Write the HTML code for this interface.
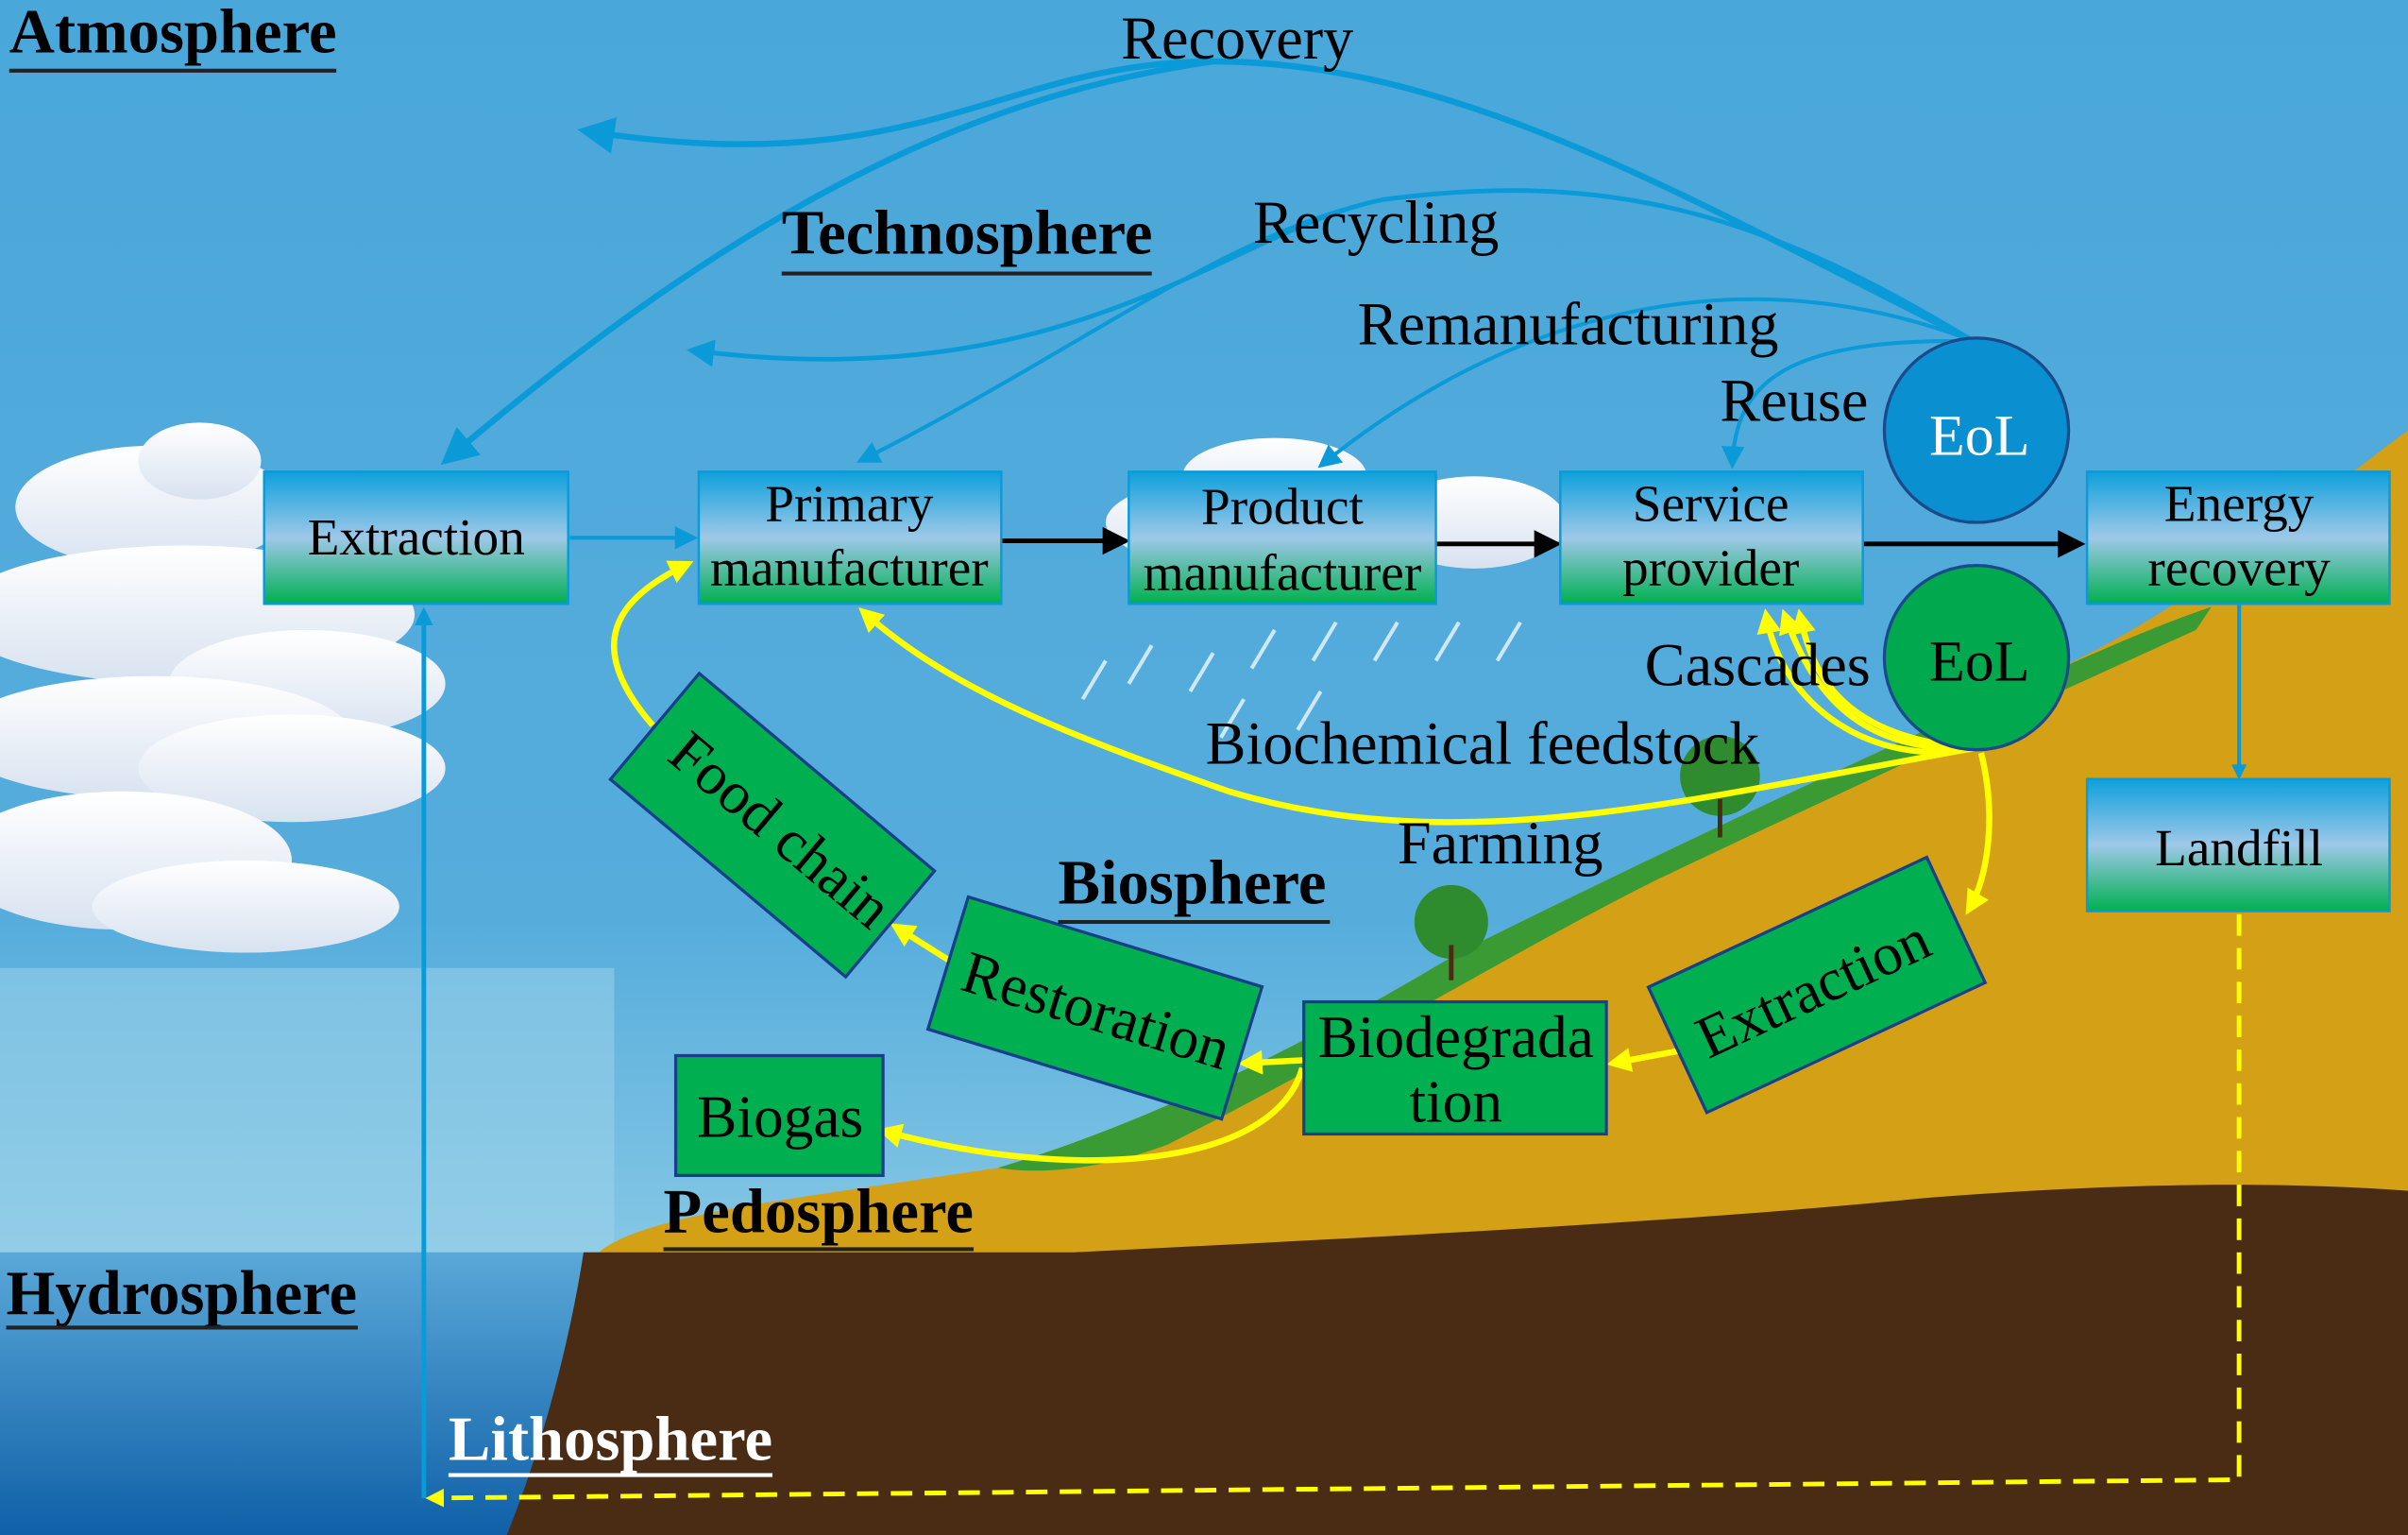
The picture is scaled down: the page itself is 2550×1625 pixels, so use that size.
<!DOCTYPE html>
<html><head><meta charset="utf-8"><style>
html,body{margin:0;padding:0;width:2550px;height:1625px;overflow:hidden}
svg{display:block}
text{font-family:"Liberation Serif",serif;fill:#000}
</style></head><body>
<svg width="2550" height="1625" viewBox="0 0 1568 999" preserveAspectRatio="none" xmlns="http://www.w3.org/2000/svg">
<defs>
<linearGradient id="sky" x1="0" y1="0" x2="0" y2="1">
<stop offset="0" stop-color="#4aa7da"/><stop offset="0.6" stop-color="#56addc"/><stop offset="0.85" stop-color="#8ccbe6"/><stop offset="1" stop-color="#a9d9ec"/></linearGradient>
<linearGradient id="box" x1="0" y1="0" x2="0" y2="1">
<stop offset="0" stop-color="#0ea0dc"/><stop offset="0.5" stop-color="#9ec8e8"/><stop offset="1" stop-color="#00b050"/></linearGradient>
<linearGradient id="water" x1="0" y1="0" x2="0" y2="1">
<stop offset="0" stop-color="#5aa8d8"/><stop offset="1" stop-color="#1060a8"/></linearGradient>
<linearGradient id="cloud" x1="0" y1="0" x2="0" y2="1">
<stop offset="0" stop-color="#ffffff"/><stop offset="1" stop-color="#d8e2f0"/></linearGradient>
<marker id="ab" markerWidth="6" markerHeight="6" refX="5" refY="3" orient="auto" markerUnits="strokeWidth"><path d="M0,0 L6,3 L0,6 Z" fill="#0a9ad8"/></marker>
<marker id="ab2" markerWidth="4" markerHeight="4" refX="3" refY="2" orient="auto" markerUnits="strokeWidth"><path d="M0,0 L4,2 L0,4 Z" fill="#0a9ad8"/></marker>
<marker id="ak" markerWidth="6" markerHeight="6" refX="5" refY="3" orient="auto" markerUnits="strokeWidth"><path d="M0,0 L6,3 L0,6 Z" fill="#000"/></marker>
<marker id="ay" markerWidth="4" markerHeight="4" refX="3" refY="2" orient="auto" markerUnits="strokeWidth"><path d="M0,0 L4,2 L0,4 Z" fill="#ffff00"/></marker>
</defs>
<rect width="1568" height="999" fill="url(#sky)"/>
<!-- clouds -->
<g fill="url(#cloud)">
<ellipse cx="100" cy="330" rx="90" ry="40"/><ellipse cx="130" cy="300" rx="40" ry="25"/>
<ellipse cx="120" cy="400" rx="150" ry="45"/><ellipse cx="200" cy="445" rx="90" ry="35"/>
<ellipse cx="100" cy="480" rx="130" ry="40"/><ellipse cx="190" cy="500" rx="100" ry="35"/>
<ellipse cx="80" cy="560" rx="110" ry="45"/><ellipse cx="160" cy="590" rx="100" ry="30"/>
<ellipse cx="840" cy="340" rx="120" ry="35"/><ellipse cx="960" cy="340" rx="60" ry="30"/><ellipse cx="830" cy="310" rx="60" ry="25"/>
</g>
<rect x="0" y="630" width="400" height="190" fill="#9fd3ea" opacity="0.5"/>
<!-- water -->
<rect x="0" y="815" width="400" height="184" fill="url(#water)"/>
<!-- gold land -->
<path d="M390,815 C420,790 520,780 650,760 C750,730 850,680 950,620 C1080,555 1200,500 1330,440 C1430,395 1500,330 1568,280 L1568,999 L390,999 Z" fill="#d4a015"/>
<path d="M650,760 C750,730 850,680 950,620 C1080,555 1200,500 1330,440 C1380,418 1410,405 1440,395 L1430,410 C1330,455 1200,515 1080,572 C980,622 870,690 760,745 C720,760 680,765 650,760 Z" fill="#3a9a34"/>
<!-- trees -->
<g fill="#2e8b2e"><ellipse cx="1120" cy="505" rx="26" ry="26"/><ellipse cx="945" cy="600" rx="24" ry="24"/></g>
<g stroke="#4a2c14" stroke-width="3"><path d="M1120,520 L1120,545"/><path d="M945,615 L945,638"/></g>
<!-- brown ground -->
<path d="M380,815 L700,815 C900,805 1100,795 1250,780 C1400,768 1500,770 1568,775 L1568,999 L330,999 C350,950 370,880 380,815 Z" fill="#4a2c14"/>
<!-- rain -->
<g stroke="#cfe8f5" stroke-width="2.5">
<path d="M720,430 L705,455"/><path d="M750,420 L735,445"/><path d="M790,425 L775,450"/><path d="M830,410 L815,435"/><path d="M870,405 L855,430"/><path d="M910,405 L895,430"/><path d="M950,405 L935,430"/><path d="M990,405 L975,430"/><path d="M810,455 L795,480"/><path d="M860,450 L845,475"/>
</g>
<!-- blue flows -->
<g fill="none" stroke="#0a9ad8">
<path d="M1285,222 C1100,130 950,40 790,40 C650,40 600,120 380,85" stroke-width="4" marker-end="url(#ab)"/>
<path d="M790,40 C650,60 500,120 290,300" stroke-width="4" marker-end="url(#ab)"/>
<path d="M1285,222 C1150,140 1050,110 900,130 C800,150 700,260 450,228" stroke-width="3" marker-end="url(#ab)"/>
<path d="M900,130 C800,150 700,230 560,300" stroke-width="2.5" marker-end="url(#ab)"/>
<path d="M1285,222 C1150,170 1000,190 860,303" stroke-width="2.5" marker-end="url(#ab)"/>
<path d="M1285,222 C1160,220 1130,250 1128,303" stroke-width="2.5" marker-end="url(#ab)"/>
<path d="M371,350 L452,350" stroke-width="2.5" marker-end="url(#ab)"/>
<path d="M276,975 L276,398" stroke-width="3" marker-end="url(#ab2)"/>
<path d="M1458,393 L1458,505" stroke-width="2.5" marker-end="url(#ab2)"/>
</g>
<g stroke="#000" stroke-width="3" fill="none">
<path d="M652,352 L733,352" marker-end="url(#ak)"/>
<path d="M935,354 L1014,354" marker-end="url(#ak)"/>
<path d="M1213,354 L1355,354" marker-end="url(#ak)"/>
</g>
<!-- yellow flows -->
<g fill="none" stroke="#ffff00" stroke-width="4">
<path d="M1285,487 C1100,520 950,560 800,515 C700,480 620,450 562,398" marker-end="url(#ay)"/>
<path d="M1285,487 C1220,500 1160,460 1150,400" marker-end="url(#ay)"/>
<path d="M1285,487 C1210,490 1180,450 1162,400" marker-end="url(#ay)"/>
<path d="M1285,487 C1200,480 1180,440 1172,400" marker-end="url(#ay)"/>
<path d="M1290,490 C1300,530 1295,570 1282,592" marker-end="url(#ay)"/>
<path d="M1093,684 L1050,692" marker-end="url(#ay)"/>
<path d="M849,690 L810,692" marker-end="url(#ay)"/>
<path d="M848,695 C830,760 700,770 575,736" marker-end="url(#ay)"/>
<path d="M618,625 L583,603" marker-end="url(#ay)"/>
<path d="M425,472 C380,420 400,390 448,367" marker-end="url(#ay)"/>
<path d="M1458,595 L1458,963 L280,975" stroke-dasharray="14,8" stroke-width="3" marker-end="url(#ay)"/>
</g>
<!-- boxes -->
<g stroke="#0a9ad8" stroke-width="1.5" fill="url(#box)">
<rect x="172" y="307" width="198" height="86"/>
<rect x="455" y="307" width="197" height="86"/>
<rect x="735" y="307" width="200" height="86"/>
<rect x="1016" y="307" width="197" height="86"/>
<rect x="1359" y="307" width="197" height="86"/>
<rect x="1359" y="507" width="197" height="86"/>
</g>
<g font-size="34" text-anchor="middle">
<text x="271" y="361">Extraction</text>
<text x="553" y="339">Primary</text><text x="553" y="381">manufacturer</text>
<text x="835" y="341">Product</text><text x="835" y="384">manufacturer</text>
<text x="1114" y="339">Service</text><text x="1114" y="381">provider</text>
<text x="1458" y="339">Energy</text><text x="1458" y="381">recovery</text>
<text x="1458" y="563">Landfill</text>
</g>
<circle cx="1287" cy="280" r="60" fill="#0a8fd0" stroke="#1a4a8a" stroke-width="2"/>
<text x="1289" y="296" font-size="38" text-anchor="middle" style="fill:#fff">EoL</text>
<circle cx="1287" cy="428" r="60" fill="#00a84e" stroke="#1a4a8a" stroke-width="2"/>
<text x="1289" y="443" font-size="38" text-anchor="middle">EoL</text>
<!-- green boxes -->
<g fill="#00b050" stroke="#1a3f8a" stroke-width="2">
<rect x="-100" y="-45" width="200" height="90" transform="translate(503,537) rotate(40)"/>
<rect x="-100" y="-45" width="200" height="90" transform="translate(713,656) rotate(17)"/>
<rect x="849" y="652" width="197" height="86"/>
<rect x="-100" y="-45" width="200" height="90" transform="translate(1183,641) rotate(-25)"/>
<rect x="440" y="687" width="135" height="78"/>
</g>
<g font-size="39" text-anchor="middle">
<text transform="translate(500,550) rotate(40)">Food chain</text>
<text transform="translate(710,670) rotate(17)">Restoration</text>
<text x="948" y="688">Biodegrada</text><text x="948" y="730">tion</text>
<text transform="translate(1186,655) rotate(-25)">Extraction</text>
<text x="508" y="740">Biogas</text>
</g>
<!-- labels -->
<g font-size="39.5">
<text x="730" y="38">Recovery</text>
<text x="816" y="158">Recycling</text>
<text x="884" y="224">Remanufacturing</text>
<text x="1120" y="274">Reuse</text>
<text x="1071" y="446">Cascades</text>
<text x="785" y="497">Biochemical feedstock</text>
<text x="910" y="562">Farming</text>
</g>
<g font-size="41" font-weight="bold">
<text x="6" y="34">Atmosphere</text>
<text x="509" y="165">Technosphere</text>
<text x="689" y="588">Biosphere</text>
<text x="432" y="802">Pedosphere</text>
<text x="4" y="855">Hydrosphere</text>
<text x="292" y="950" style="fill:#fff">Lithosphere</text>
</g>
<g stroke-width="2.5">
<path d="M6,46 L219,46" stroke="#222"/><path d="M509,178 L750,178" stroke="#222"/>
<path d="M689,600 L866,600" stroke="#222"/><path d="M432,813 L634,813" stroke="#222"/>
<path d="M4,864 L233,864" stroke="#222"/><path d="M292,960 L503,960" stroke="#fff"/>
</g>
</svg>
</body></html>
